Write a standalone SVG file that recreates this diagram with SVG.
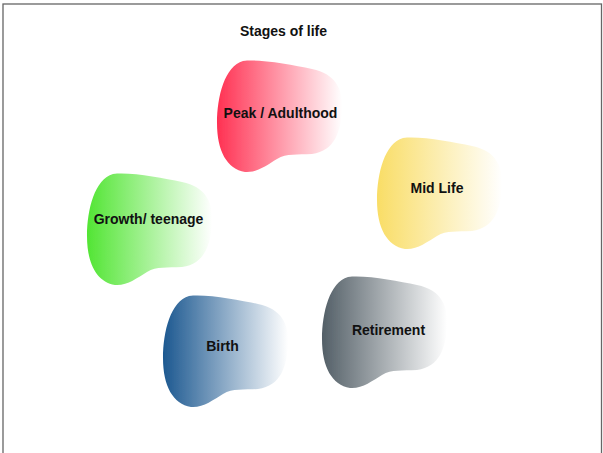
<svg xmlns="http://www.w3.org/2000/svg" xmlns:xlink="http://www.w3.org/1999/xlink" width="603" height="453" viewBox="0 0 603 453">
<style>
.lbl{font-family:"Liberation Sans",Arial,sans-serif;font-weight:bold;font-size:14px;fill:#111;text-anchor:middle}
</style>
<defs>
<linearGradient id="gRed" x1="0" y1="0" x2="1" y2="0"><stop offset="0" stop-color="#ff3152"/><stop offset="1" stop-color="#ffffff"/></linearGradient>
<linearGradient id="gYel" x1="0" y1="0" x2="1" y2="0"><stop offset="0" stop-color="#f9dd66"/><stop offset="1" stop-color="#ffffff"/></linearGradient>
<linearGradient id="gGrn" x1="0" y1="0" x2="1" y2="0"><stop offset="0" stop-color="#52e534"/><stop offset="1" stop-color="#ffffff"/></linearGradient>
<linearGradient id="gBlu" x1="0" y1="0" x2="1" y2="0"><stop offset="0" stop-color="#1c5890"/><stop offset="1" stop-color="#ffffff"/></linearGradient>
<linearGradient id="gGry" x1="0" y1="0" x2="1" y2="0"><stop offset="0" stop-color="#535f67"/><stop offset="1" stop-color="#ffffff"/></linearGradient>
<filter id="soft" x="-5%" y="-5%" width="110%" height="110%"><feGaussianBlur stdDeviation="0.6"/></filter>
<path id="blob" d="M26,0 C45,-2 75,4 95,8 C120,13 126,30 125,48 C124,70 118,90 95,93 C80,94 70,92 60,98 C50,104 40,112 28,111 C10,108 0,90 0,62 C0,35 8,5 26,0 Z"/>
</defs>
<rect x="3" y="4" width="598.5" height="470" fill="#ffffff" stroke="#666" stroke-width="1.3"/>
<text class="lbl" x="283.5" y="36">Stages of life</text>
<g id="peak">
<use xlink:href="#blob" href="#blob" transform="translate(217,61)" fill="url(#gRed)" filter="url(#soft)"/>
<text class="lbl" x="280.5" y="118">Peak / Adulthood</text>
</g>
<g id="midlife">
<use xlink:href="#blob" href="#blob" transform="translate(377,138)" fill="url(#gYel)" filter="url(#soft)"/>
<text class="lbl" x="437" y="193">Mid Life</text>
</g>
<g id="growth">
<use xlink:href="#blob" href="#blob" transform="translate(87,174)" fill="url(#gGrn)" filter="url(#soft)"/>
<text class="lbl" x="148.5" y="224">Growth/ teenage</text>
</g>
<g id="retirement">
<use xlink:href="#blob" href="#blob" transform="translate(322,277)" fill="url(#gGry)" filter="url(#soft)"/>
<text class="lbl" x="388.5" y="335">Retirement</text>
</g>
<g id="birth">
<use xlink:href="#blob" href="#blob" transform="translate(163,296)" fill="url(#gBlu)" filter="url(#soft)"/>
<text class="lbl" x="222.5" y="351">Birth</text>
</g>
<g id="connectors"></g>
</svg>
